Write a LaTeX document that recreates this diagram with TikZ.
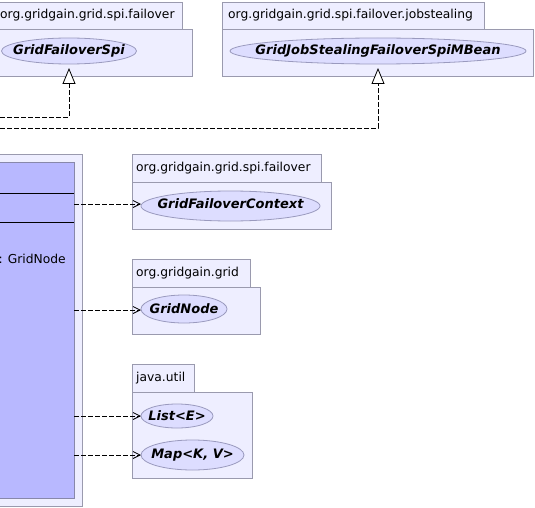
\documentclass[tikz,border=0pt]{standalone}
\usepackage{fontspec}
\setmainfont{DejaVu Sans}
\usetikzlibrary{arrows.meta}
\definecolor{pkgfill}{HTML}{EEEEFF}
\definecolor{pkgline}{HTML}{9A9AAE}
\definecolor{ellfill}{HTML}{DDDDFF}
\definecolor{ellline}{HTML}{9A9ABE}
\definecolor{clsfill}{HTML}{B8B8FF}
\definecolor{clsline}{HTML}{8888AA}
\tikzset{
  pkg/.style={draw=pkgline, fill=pkgfill, line width=0.8pt},
  pkgtext/.style={font=\fontsize{12.3}{14}\selectfont, anchor=west, inner sep=0pt},
  ell/.style={draw=ellline, fill=ellfill, line width=0.8pt},
  elltext/.style={font=\fontsize{13}{15}\selectfont\bfseries\itshape, inner sep=0pt},
  dep/.style={dashed, dash pattern=on 5pt off 2pt, line width=0.8pt, -{Straight Barb[length=7pt,width=7pt]}},
  real/.style={dashed, dash pattern=on 5pt off 2pt, line width=0.8pt, -{Triangle[open,length=16pt,width=13pt,fill=white]}},
}
\begin{document}
\begin{tikzpicture}[x=1pt,y=-1pt]
\useasboundingbox (0,0) rectangle (535,508);
% package 1
\draw[pkg] (-5,2) rectangle (182,29);
\draw[pkg] (-5,29) rectangle (192,76);
\node[pkgtext] (p1t) at (0,15.5) {org.gridgain.grid.spi.failover};
\draw[ell] (69,51) ellipse [x radius=67.5, y radius=13];
\node[elltext] (e1) at (69,51) {GridFailoverSpi};
% package 2
\draw[pkg] (222,2) rectangle (484,29);
\draw[pkg] (222,29) rectangle (533,76);
\node[pkgtext] (p2t) at (228,15.5) {org.gridgain.grid.spi.failover.jobstealing};
\draw[ell] (378,51) ellipse [x radius=148, y radius=13];
\node[elltext] (e2) at (378,51) {GridJobStealingFailoverSpiMBean};
% realization arrows
\coordinate (a1) at (0,117);
\coordinate (a1b) at (69,117);
\coordinate (a1t) at (69,68);
\draw[real] (a1) -- (a1b) -- (a1t);
\coordinate (a2) at (0,128);
\coordinate (a2b) at (378,128);
\coordinate (a2t) at (378,68);
\draw[real] (a2) -- (a2b) -- (a2t);
% class box
\draw[draw=pkgline, fill=pkgfill, line width=0.8pt] (-5,154) rectangle (82,506);
\draw[draw=clsline, fill=clsfill, line width=0.8pt] (-5,162) rectangle (74,498);
\draw[line width=0.8pt] (-5,193) -- (74,193);
\draw[line width=0.8pt] (-5,222) -- (74,222);
\node[font=\fontsize{12.3}{14}\selectfont, anchor=east, inner sep=0pt] (attr) at (66,259) {: GridNode};
% package 3
\draw[pkg] (132,154) rectangle (321,182);
\draw[pkg] (132,182) rectangle (331,229);
\node[pkgtext] (p3t) at (136,168) {org.gridgain.grid.spi.failover};
\draw[ell] (230.5,206) ellipse [x radius=89.5, y radius=15];
\node[elltext] (e3) at (230.5,204) {GridFailoverContext};
% package 4
\draw[pkg] (132,259) rectangle (250,287);
\draw[pkg] (132,287) rectangle (260,334);
\node[pkgtext] (p4t) at (136,273) {org.gridgain.grid};
\draw[ell] (184,309) ellipse [x radius=43, y radius=14];
\node[elltext] (e4) at (184,309) {GridNode};
% package 5
\draw[pkg] (132,364) rectangle (194,392);
\draw[pkg] (132,392) rectangle (252,478);
\node[pkgtext] (p5t) at (136,378) {java.util};
\draw[ell] (177,416) ellipse [x radius=36, y radius=12];
\node[elltext] (e5) at (177,416) {List<E>};
\draw[ell] (192.5,455) ellipse [x radius=51.5, y radius=15];
\node[elltext] (e6) at (192.5,455) {Map<K, V>};
% dependency arrows
\coordinate (d3) at (74,204);
\coordinate (d3e) at (141,204);
\draw[dep] (d3) -- (d3e);
\coordinate (d4) at (74,310);
\coordinate (d4e) at (141,310);
\draw[dep] (d4) -- (d4e);
\coordinate (d5) at (74,416);
\coordinate (d5e) at (141,416);
\draw[dep] (d5) -- (d5e);
\coordinate (d6) at (74,455);
\coordinate (d6e) at (141,455);
\draw[dep] (d6) -- (d6e);
\end{tikzpicture}
\end{document}
